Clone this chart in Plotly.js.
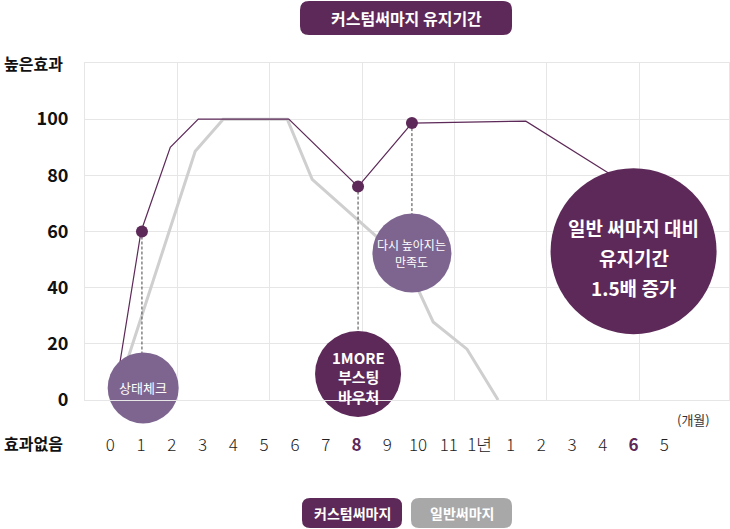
<!DOCTYPE html>
<html>
<head>
<meta charset="utf-8">
<script src="https://cdn.plot.ly/plotly-3.0.1.min.js"></script>
<style>
  html, body { margin: 0; padding: 0; background: #fff; }
  #chart { width: 730px; height: 529px; }
</style>
</head>
<body>
<div id="chart"></div>
<script>
// x positions are category slots (0 = first tick label)
const tickLabels = ['0', '1', '2', '3', '4', '5', '6', '7', '8', '9', '10', '11', '1년', '1', '2', '3', '4', '6', '5'];
const highlightTicks = [8, 17];

// 커스텀써마지
const customX = [0.26, 1, 1.95, 2.86, 5.8, 8.05, 9.8, 13.5, 16.3];
const customY = [9.6, 60, 90, 100, 100, 76, 98.6, 99.3, 80];

// 일반써마지
const normalX = [0.55, 2.76, 3.67, 5.75, 6.56, 8.67, 9.74, 10.49, 11.59, 12.6];
const normalY = [14, 88.6, 100, 100, 78.6, 58, 45.5, 27.8, 18.1, 0];

// dotted call-outs on the custom line
const markX = [1.03, 8.05, 9.8];
const markY = [60, 76, 98.6];

// bubbles
const bubbleX = [1.07, 8.05, 9.8, 17.0];
const bubbleY = [4.3, 9.3, 52.3, 53];
const bubbleLabels = [
  ['상태체크'],
  ['1MORE', '부스팅', '바우처'],
  ['다시 높아지는', '만족도'],
  ['일반 써마지 대비', '유지기간', '1.5배 증가']
];

const yTicks = [0, 20, 40, 60, 80, 100];

const PURPLE = '#5d2958';
const LILAC = '#7d6590';
const FONT = '"Noto Sans CJK KR", "Noto Sans", sans-serif';

// plot box in pixels, used to place the decorations around it
const M = { l: 85, r: 1, t: 63, b: 129 };
const W = 730, H = 529;
const PW = W - M.l - M.r, PH = H - M.t - M.b;
const px = (x) => (x - M.l) / PW;
const py = (y) => (H - M.b - y) / PH;

function roundRect(x0, y0, x1, y1, r) {
  const p = (x, y) => px(x) + ',' + py(y);
  return 'M' + p(x0 + r, y0) + ' L' + p(x1 - r, y0) + ' Q' + p(x1, y0) + ' ' + p(x1, y0 + r) +
    ' L' + p(x1, y1 - r) + ' Q' + p(x1, y1) + ' ' + p(x1 - r, y1) +
    ' L' + p(x0 + r, y1) + ' Q' + p(x0, y1) + ' ' + p(x0, y1 - r) +
    ' L' + p(x0, y0 + r) + ' Q' + p(x0, y0) + ' ' + p(x0 + r, y0) + ' Z';
}

const tickText = tickLabels.map((t, i) =>
  highlightTicks.includes(i) ? "<b><span style='color:" + PURPLE + "'>" + t + '</span></b>' : t);

const dashTraces = markX.map((x, i) => ({
  type: 'scatter', mode: 'lines',
  x: [x, x], y: [markY[i], bubbleY[i]],
  line: { color: '#444', width: 1, dash: '3px,2px' },
  cliponaxis: false,
  hoverinfo: 'skip', showlegend: false
}));

const data = [
  { type: 'scatter', x: [], y: [], xaxis: 'x2', hoverinfo: 'skip', showlegend: false },
  {
    type: 'scatter', mode: 'lines', name: '일반써마지',
    x: normalX, y: normalY,
    line: { color: '#cfcfcf', width: 3 }
  },
  {
    type: 'scatter', mode: 'lines', name: '커스텀써마지',
    x: customX, y: customY,
    line: { color: PURPLE, width: 1.2 }
  },
  ...dashTraces,
  {
    type: 'scatter', mode: 'markers',
    x: markX, y: markY,
    marker: { color: PURPLE, size: 12 },
    cliponaxis: false,
    hoverinfo: 'skip', showlegend: false
  },
  {
    type: 'scatter', mode: 'markers',
    x: bubbleX, y: bubbleY,
    marker: {
      size: [71, 86, 79, 166],
      color: [LILAC, PURPLE, LILAC, PURPLE],
      opacity: 1,
      line: { width: 0 }
    },
    cliponaxis: false,
    hoverinfo: 'skip', showlegend: false
  }
];

// bubble text, one annotation per line
const bubbleFont = [
  { size: 13, weight: 'normal', gap: 0, shift: 0 },
  { size: 15, weight: 'bold', gap: 19.5, shift: -3 },
  { size: 12, weight: 'normal', gap: 17, shift: 0 },
  { size: 19, weight: 'bold', gap: 30, shift: -6 }
];
const annotations = [];
bubbleLabels.forEach((lines, b) => {
  const f = bubbleFont[b];
  lines.forEach((line, k) => {
    annotations.push({
      x: bubbleX[b], y: bubbleY[b], xref: 'x', yref: 'y',
      xanchor: 'center', yanchor: 'middle',
      text: line, showarrow: false,
      yshift: f.shift - (k - (lines.length - 1) / 2) * f.gap,
      font: { family: FONT, size: f.size, color: '#fff', weight: f.weight }
    });
  });
});

function label(x, y, text, size, color) {
  return {
    xref: 'paper', yref: 'paper', x: px(x), y: py(y),
    xanchor: 'center', yanchor: 'middle',
    text: text, showarrow: false,
    font: { family: FONT, size: size, color: color }
  };
}

annotations.push(
  label(33, 63, '<b>높은효과</b>', 16, '#111'),
  label(33, 443, '<b>효과없음</b>', 16, '#111'),
  label(693, 419, '(개월)', 13, '#333'),
  label(406, 18, '<b>커스텀써마지 유지기간</b>', 16, '#fff'),
  label(352, 513, '<b>커스텀써마지</b>', 14, '#fff'),
  label(461.5, 513, '<b>일반써마지</b>', 14, '#fff')
);

const shapes = [
  { type: 'path', xref: 'paper', yref: 'paper', path: roundRect(300, 1, 512, 35, 9),
    fillcolor: PURPLE, line: { width: 0 } },
  { type: 'path', xref: 'paper', yref: 'paper', path: roundRect(302, 498, 402, 528, 8),
    fillcolor: PURPLE, line: { width: 0 } },
  { type: 'path', xref: 'paper', yref: 'paper', path: roundRect(411, 498, 512, 528, 8),
    fillcolor: '#a8a8a8', line: { width: 0 } }
];

const xRange = [-0.82, 20.1];

const layout = {
  width: W, height: H,
  margin: M,
  paper_bgcolor: '#fff', plot_bgcolor: '#fff',
  showlegend: false,
  hovermode: false,
  font: { family: FONT },
  xaxis: {
    range: xRange,
    tickmode: 'array', tickvals: tickLabels.map((_, i) => i), ticktext: tickText,
    tickfont: { family: FONT, size: 17, color: '#222', weight: 300 },
    ticks: 'outside', ticklen: 30, tickcolor: 'rgba(0,0,0,0)',
    showgrid: false, zeroline: false,
    showline: true, mirror: true, linecolor: '#e6e6e6', linewidth: 1
  },
  xaxis2: {
    overlaying: 'x', anchor: 'y',
    range: xRange, tick0: -0.82, dtick: 3,
    showgrid: true, gridcolor: '#e6e6e6', gridwidth: 1,
    showticklabels: false, ticks: '', zeroline: false
  },
  yaxis: {
    range: [0, 120],
    tickmode: 'array', tickvals: yTicks,
    tickfont: { family: FONT, size: 18, color: '#111', weight: 'bold' },
    ticks: 'outside', ticklen: 12, tickcolor: 'rgba(0,0,0,0)',
    showgrid: true, gridcolor: '#e6e6e6', gridwidth: 1, zeroline: false,
    showline: true, mirror: true, linecolor: '#e6e6e6', linewidth: 1
  },
  annotations: annotations,
  shapes: shapes
};

Plotly.newPlot('chart', data, layout, { displayModeBar: false, staticPlot: true });
</script>
</body>
</html>
